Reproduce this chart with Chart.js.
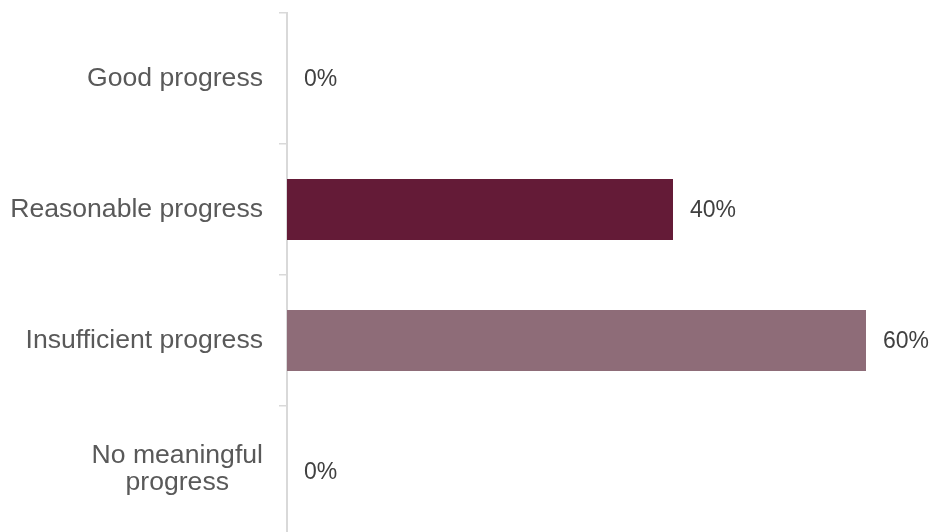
<!DOCTYPE html>
<html>
<head>
<meta charset="utf-8">
<script src="https://cdn.jsdelivr.net/npm/chart.js@4"></script>
<style>
  html, body { margin: 0; padding: 0; background: #fff; overflow: hidden; }
  #wrap { width: 934px; height: 540px; position: relative; }
</style>
</head>
<body>
<div id="wrap"><canvas id="progressChart"></canvas></div>
<script>
// Chart data
const categories = [['Good progress'], ['Reasonable progress'], ['Insufficient progress'], ['No meaningful', 'progress']];
const shares = [0, 40, 60, 0];
const barColors = ['#641B37', '#641B37', '#8E6C78', '#8E6C78'];

const FONT = '"Liberation Sans", Arial, sans-serif';

// Category labels: right edge fixed, multi-line blocks centred on their widest line
const categoryLabels = {
    id: 'categoryLabels',
    afterDraw(chart) {
        const ctx = chart.ctx;
        const y = chart.scales.y;
        const right = y.right - 24;
        const lineH = 27;
        ctx.save();
        ctx.font = '26.6px ' + FONT;
        ctx.fillStyle = '#595959';
        ctx.textBaseline = 'middle';
        ctx.textAlign = 'center';
        categories.forEach((lines, i) => {
            const cy = y.getPixelForValue(i) - (lines.length > 1 ? 2 : 0);
            const maxW = Math.max(...lines.map(l => ctx.measureText(l).width));
            const cx = right - maxW / 2;
            const top = cy - (lines.length - 1) * lineH / 2;
            lines.forEach((l, j) => ctx.fillText(l, cx, top + j * lineH));
        });
        ctx.restore();
    }
};

// Value labels to the right of each bar
const valueLabels = {
    id: 'valueLabels',
    afterDraw(chart) {
        const ctx = chart.ctx;
        const x = chart.scales.x;
        const y = chart.scales.y;
        ctx.save();
        ctx.font = '23px ' + FONT;
        ctx.fillStyle = '#404040';
        ctx.textBaseline = 'middle';
        ctx.textAlign = 'left';
        shares.forEach((v, i) => {
            ctx.fillText(v + '%', x.getPixelForValue(v) + 17, y.getPixelForValue(i) + 1);
        });
        ctx.restore();
    }
};

new Chart(document.getElementById('progressChart'), {
    type: 'bar',
    data: {
        labels: categories.map(c => c.join(' ')),
        datasets: [{
            data: shares,
            backgroundColor: barColors,
            borderWidth: 0,
            categoryPercentage: 1,
            barPercentage: 0.466
        }]
    },
    options: {
        indexAxis: 'y',
        responsive: true,
        maintainAspectRatio: false,
        animation: false,
        layout: { padding: { top: 13, right: 68, bottom: 3, left: 0 } },
        scales: {
            x: {
                display: false,
                min: 0,
                max: 60
            },
            y: {
                afterFit(scale) { scale.width = 287; },
                ticks: { display: false },
                grid: {
                    offset: true,
                    drawOnChartArea: false,
                    drawTicks: true,
                    tickLength: 8,
                    color: '#D9D9D9',
                    lineWidth: 1.5
                },
                border: { display: true, color: '#D9D9D9', width: 2 }
            }
        },
        plugins: {
            legend: { display: false },
            tooltip: { enabled: false }
        }
    },
    plugins: [categoryLabels, valueLabels]
});
</script>
</body>
</html>
